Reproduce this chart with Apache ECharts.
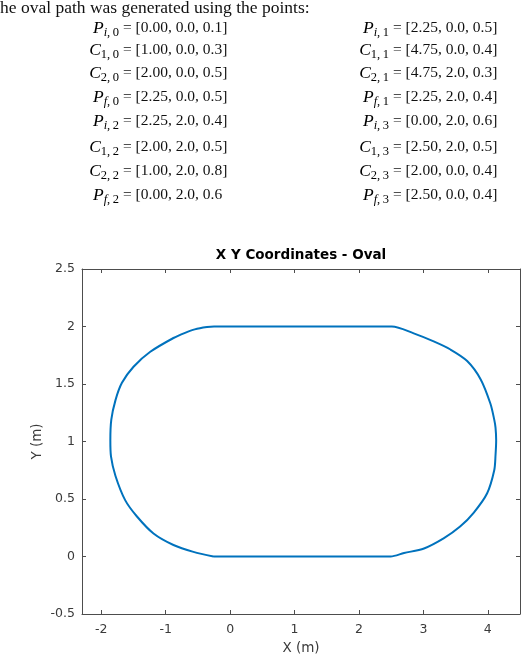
<!DOCTYPE html>
<html>
<head>
<meta charset="utf-8">
<script src="https://cdn.jsdelivr.net/npm/echarts@6/dist/echarts.min.js"></script>
<style>
  html, body { margin: 0; padding: 0; background: #fff; }
  #main { width: 528px; height: 659px; }
</style>
</head>
<body>
<div id="main"></div>
<script>
// oval path (metres), traced in drawing order
var ovalX = [-0.26, 2.49, 2.70, 3.01, 3.32, 3.57, 3.78, 3.99, 4.10, 4.12, 4.13, 4.12, 4.10, 4.04, 3.89, 3.68, 3.42, 3.16, 2.85, 2.51,
             -0.25, -0.36, -0.55, -0.70, -0.88, -1.24, -1.50, -1.68, -1.78, -1.845, -1.86, -1.85, -1.78, -1.63, -1.45, -1.19, -0.88, -0.57, -0.26];
var ovalY = [0.00, 0.00, 0.03, 0.07, 0.16, 0.26, 0.38, 0.55, 0.75, 0.88, 1.01, 1.12, 1.19, 1.33, 1.54, 1.70, 1.80, 1.87, 1.94, 2.00,
             2.00, 1.995, 1.975, 1.945, 1.90, 1.78, 1.65, 1.51, 1.36, 1.19, 1.01, 0.87, 0.70, 0.49, 0.35, 0.20, 0.10, 0.04, 0.00];

// axis ticks
var xTicks = [-2, -1, 0, 1, 2, 3, 4];

// control points listed above the plot
var pointNames = ['P', 'C', 'C', 'P'];
var pointSubs = ['i', '1', '2', 'f'];
var seg0 = ['[0.00, 0.0, 0.1]', '[1.00, 0.0, 0.3]', '[2.00, 0.0, 0.5]', '[2.25, 0.0, 0.5]'];
var seg1 = ['[2.25, 0.0, 0.5]', '[4.75, 0.0, 0.4]', '[4.75, 2.0, 0.3]', '[2.25, 2.0, 0.4]'];
var seg2 = ['[2.25, 2.0, 0.4]', '[2.00, 2.0, 0.5]', '[1.00, 2.0, 0.8]', '[0.00, 2.0, 0.6'];
var seg3 = ['[0.00, 2.0, 0.6]', '[2.50, 2.0, 0.5]', '[2.00, 0.0, 0.4]', '[2.50, 0.0, 0.4]'];
var introText = 'he oval path was generated using the points:';

var serif = '"Liberation Serif", "DejaVu Serif", serif';
var sans = '"DejaVu Sans", sans-serif';
var axisColor = '#4d4d4d';
var labelColor = '#3a3a3a';
var ink = '#111';

var rowY = [28, 50, 73, 97, 121, 147, 171, 195];

var graphics = [{
  type: 'text', x: 0, y: 8,
  style: { text: introText, font: '17.5px ' + serif, fill: ink, textVerticalAlign: 'middle' }
}];

function addBlock(values, segIdx, row0, labelRight) {
  values.forEach(function (val, k) {
    var sub = pointSubs[k];
    var subStyle = (sub === 'i' || sub === 'f') ? 'si' : 'sr';
    graphics.push({
      type: 'text', x: labelRight, y: rowY[row0 + k],
      style: {
        text: '{v|' + pointNames[k] + '}{' + subStyle + '|' + sub + '}{sr|,\u2009' + segIdx + '}',
        textAlign: 'right', textVerticalAlign: 'middle',
        rich: {
          v: { fontFamily: serif, fontSize: 17.5, fontStyle: 'italic', color: ink },
          si: { fontFamily: serif, fontSize: 12.5, fontStyle: 'italic', color: ink, padding: [9, 0, 0, 0] },
          sr: { fontFamily: serif, fontSize: 12.5, color: ink, padding: [9, 0, 0, 0] }
        }
      }
    });
    graphics.push({
      type: 'text', x: labelRight + 4, y: rowY[row0 + k],
      style: { text: '= ' + val, font: '15.5px ' + serif, fill: ink, textVerticalAlign: 'middle' }
    });
  });
}
addBlock(seg0, 0, 0, 119);
addBlock(seg2, 2, 4, 119);
addBlock(seg1, 1, 0, 389);
addBlock(seg3, 3, 4, 389);

var chart = echarts.init(document.getElementById('main'));

var boxLine = { show: true, onZero: false, lineStyle: { color: axisColor, width: 1 } };
var tickStyle = { color: axisColor, width: 1 };

var option = {
  animation: false,
  backgroundColor: '#fff',
  title: {
    text: 'X Y Coordinates - Oval',
    left: 301, top: 248, padding: 0,
    textAlign: 'center',
    textStyle: { fontFamily: sans, fontSize: 13.5, fontWeight: 'bold', color: '#000' }
  },
  grid: { left: 82, right: 8, top: 269, bottom: 45, outerBoundsMode: 'none' },
  xAxis: [{
    type: 'value', min: -2.3, max: 4.5, position: 'bottom',
    name: 'X (m)', nameLocation: 'middle', nameGap: 27, nameMoveOverlap: false,
    nameTextStyle: { fontFamily: sans, fontSize: 13.5, color: labelColor },
    axisLine: boxLine,
    axisTick: { show: true, inside: true, length: 4, customValues: xTicks, lineStyle: tickStyle },
    axisLabel: { customValues: xTicks, margin: 9, fontFamily: sans, fontSize: 12.5, color: labelColor },
    splitLine: { show: false }
  }, {
    type: 'value', min: -2.3, max: 4.5, position: 'top',
    axisLine: boxLine,
    axisTick: { show: true, inside: true, length: 4, customValues: xTicks, lineStyle: tickStyle },
    axisLabel: { show: false },
    splitLine: { show: false }
  }],
  yAxis: [{
    type: 'value', min: -0.5, max: 2.5, interval: 0.5, position: 'left',
    name: 'Y (m)', nameLocation: 'middle', nameGap: 38, nameRotate: 90, nameMoveOverlap: false,
    nameTextStyle: { fontFamily: sans, fontSize: 13.5, color: labelColor },
    axisLine: boxLine,
    axisTick: { show: true, inside: true, length: 4, lineStyle: tickStyle },
    axisLabel: { margin: 7, fontFamily: sans, fontSize: 12.5, color: labelColor },
    splitLine: { show: false }
  }, {
    type: 'value', min: -0.5, max: 2.5, interval: 0.5, position: 'right',
    axisLine: boxLine,
    axisTick: { show: true, inside: true, length: 4, lineStyle: tickStyle },
    axisLabel: { show: false },
    splitLine: { show: false }
  }],
  series: [{
    type: 'line',
    xAxisIndex: 0, yAxisIndex: 0,
    data: ovalX.map(function (x, i) { return [x, ovalY[i]]; }),
    showSymbol: false,
    smooth: 0.3,
    lineStyle: { color: '#0072BD', width: 2 }
  }],
  graphic: graphics
};

chart.setOption(option);
</script>
</body>
</html>
